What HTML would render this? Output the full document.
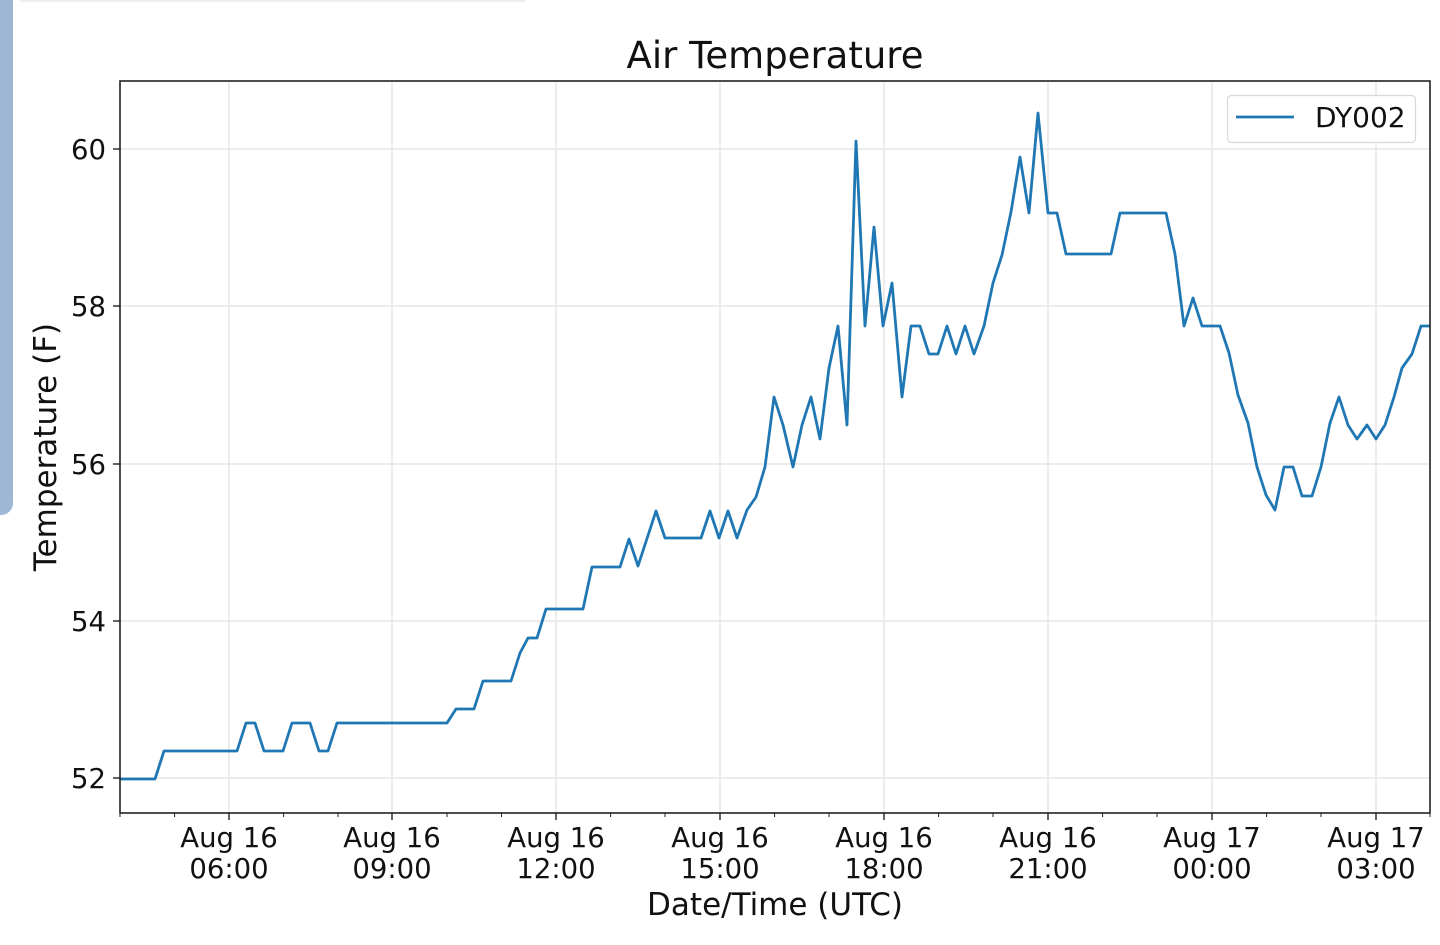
<!DOCTYPE html>
<html><head><meta charset="utf-8"><style>
body{margin:0;background:#fff;width:1440px;height:945px;overflow:hidden;position:relative;font-family:"DejaVu Sans","Liberation Sans",sans-serif}
#bar{position:absolute;left:0;top:0;width:13px;height:515px;background:#9db7d4;border-bottom-right-radius:12px}
#topline{position:absolute;left:20px;top:0;width:505px;height:2px;background:#eceeef}
</style></head><body>
<div id="bar"></div><div id="topline"></div>
<svg width="1440" height="945" style="position:absolute;left:0;top:0" font-family="DejaVu Sans, Liberation Sans, sans-serif">
<g stroke="#e6e6e6" stroke-width="1.5">
<line x1="229" y1="81" x2="229" y2="813"/><line x1="392" y1="81" x2="392" y2="813"/><line x1="556" y1="81" x2="556" y2="813"/><line x1="720" y1="81" x2="720" y2="813"/><line x1="884" y1="81" x2="884" y2="813"/><line x1="1048" y1="81" x2="1048" y2="813"/><line x1="1212" y1="81" x2="1212" y2="813"/><line x1="1376" y1="81" x2="1376" y2="813"/>
<line x1="120" y1="149" x2="1430" y2="149"/><line x1="120" y1="306" x2="1430" y2="306"/><line x1="120" y1="464" x2="1430" y2="464"/><line x1="120" y1="621" x2="1430" y2="621"/><line x1="120" y1="778" x2="1430" y2="778"/>
</g>
<polyline fill="none" stroke="#1f77b4" stroke-width="2.8" stroke-linejoin="round" points="120,779 155,779 164,751 237,751 246,723 255,723 264,751 283,751 292,723 310,723 319,751 328,751 337,723 447,723 456,709 474,709 483,681 511,681 520,653 528,638 537,638 546,609 583,609 592,567 620,567 629,539 638,566 656,511 665,538 701,538 710,511 719,538 728,511 737,538 747,510 756,497 765,467 774,397 783,425 793,467 802,425 811,397 820,439 829,368 838,326 847,425 856,141 865,326 874,227 883,326 892,283 902,397 911,326 920,326 929,354 938,354 947,326 956,354 965,326 974,354 984,326 993,283 1002,255 1011,212 1020,157 1029,213 1038,113 1048,213 1057,213 1066,254 1111,254 1120,213 1166,213 1175,254 1184,326 1193,298 1202,326 1220,326 1229,353 1238,395 1248,423 1257,467 1266,495 1275,510 1284,467 1293,467 1302,496 1312,496 1321,467 1330,423 1339,397 1348,425 1357,439 1367,425 1376,439 1385,425 1394,397 1402,368 1412,354 1421,326 1430,326"/>
<rect x="120" y="81" width="1310" height="732" fill="none" stroke="#222" stroke-width="1.6"/>
<g stroke="#222" stroke-width="1.4">
<line x1="113" y1="149" x2="120" y2="149"/><line x1="113" y1="306" x2="120" y2="306"/><line x1="113" y1="464" x2="120" y2="464"/><line x1="113" y1="621" x2="120" y2="621"/><line x1="113" y1="778" x2="120" y2="778"/>
<line x1="229" y1="813" x2="229" y2="820"/><line x1="392" y1="813" x2="392" y2="820"/><line x1="556" y1="813" x2="556" y2="820"/><line x1="720" y1="813" x2="720" y2="820"/><line x1="884" y1="813" x2="884" y2="820"/><line x1="1048" y1="813" x2="1048" y2="820"/><line x1="1212" y1="813" x2="1212" y2="820"/><line x1="1376" y1="813" x2="1376" y2="820"/>
</g>
<g stroke="#222" stroke-width="1">
<line x1="120" y1="813" x2="120" y2="817"/><line x1="174.6" y1="813" x2="174.6" y2="817"/><line x1="283.6" y1="813" x2="283.6" y2="817"/><line x1="338" y1="813" x2="338" y2="817"/><line x1="447" y1="813" x2="447" y2="817"/><line x1="501.5" y1="813" x2="501.5" y2="817"/><line x1="610.6" y1="813" x2="610.6" y2="817"/><line x1="665" y1="813" x2="665" y2="817"/><line x1="774.6" y1="813" x2="774.6" y2="817"/><line x1="829" y1="813" x2="829" y2="817"/><line x1="938.6" y1="813" x2="938.6" y2="817"/><line x1="993" y1="813" x2="993" y2="817"/><line x1="1102.6" y1="813" x2="1102.6" y2="817"/><line x1="1157" y1="813" x2="1157" y2="817"/><line x1="1266.6" y1="813" x2="1266.6" y2="817"/><line x1="1321" y1="813" x2="1321" y2="817"/><line x1="1430" y1="813" x2="1430" y2="817"/>
</g>
<g font-size="27.5" fill="#111" text-anchor="end">
<text x="106" y="159">60</text><text x="106" y="316">58</text><text x="106" y="474">56</text><text x="106" y="631">54</text><text x="106" y="788">52</text>
</g>
<g font-size="27.5" fill="#111" text-anchor="middle">
<text x="229" y="847">Aug 16</text><text x="229" y="878">06:00</text>
<text x="392" y="847">Aug 16</text><text x="392" y="878">09:00</text>
<text x="556" y="847">Aug 16</text><text x="556" y="878">12:00</text>
<text x="720" y="847">Aug 16</text><text x="720" y="878">15:00</text>
<text x="884" y="847">Aug 16</text><text x="884" y="878">18:00</text>
<text x="1048" y="847">Aug 16</text><text x="1048" y="878">21:00</text>
<text x="1212" y="847">Aug 17</text><text x="1212" y="878">00:00</text>
<text x="1376" y="847">Aug 17</text><text x="1376" y="878">03:00</text>
<text x="775" y="915" font-size="31">Date/Time (UTC)</text>
<text x="775" y="68" font-size="37">Air Temperature</text>
</g>
<text transform="translate(56,447) rotate(-90)" font-size="31" fill="#111" text-anchor="middle">Temperature (F)</text>
<rect x="1227.5" y="95.5" width="188" height="47" rx="4" fill="#fff" stroke="#d8d8d8" stroke-width="1.2"/>
<line x1="1236" y1="117" x2="1294" y2="117" stroke="#1f77b4" stroke-width="2.8"/>
<text x="1315" y="127" font-size="28" fill="#111">DY002</text>
</svg>
</body></html>
